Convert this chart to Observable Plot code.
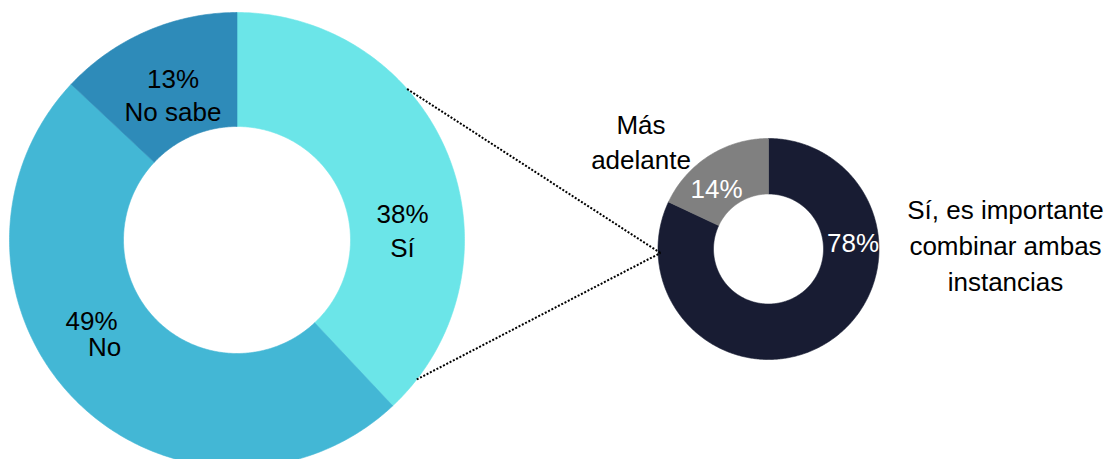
<!DOCTYPE html>
<html>
<head>
<meta charset="utf-8">
<script src="https://cdn.jsdelivr.net/npm/d3@7"></script>
<script src="https://cdn.jsdelivr.net/npm/@observablehq/plot@0.6"></script>
<style>
  html, body { margin: 0; padding: 0; background: #ffffff; }
  #chart svg { display: block; }
</style>
</head>
<body>
<div id="chart"></div>
<script>
// ---- Data ----
const leftCategories = ["Sí", "No", "No sabe"];
const leftValues = [38, 49, 13];
const leftColors = ["#6be5e8", "#43b7d5", "#2e8bb9"];

const rightCategories = ["Sí, es importante combinar ambas instancias", "Más adelante"];
const rightShares = [82, 18];        // arc sizes as drawn
const rightPercentLabels = [78, 14]; // printed percentages
const rightColors = ["#181c33", "#808080"];

// ---- Layout ----
const W = 1109, H = 459;
const leftDonut = {cx: 236.5, cy: 239.5, r0: 113.5, r1: 227.5};
const rightDonut = {cx: 768, cy: 248.5, r0: 55, r1: 110.5};

function arcPolygons(cats, vals, colors, g, group) {
  const pie = d3.pie().sort(null).value(d => d.value);
  const arcs = pie(cats.map((c, i) => ({cat: c, value: vals[i], color: colors[i]})));
  const pts = [];
  arcs.forEach(a => {
    const key = group + ":" + a.data.cat;
    const n = Math.max(8, Math.ceil((a.endAngle - a.startAngle) * 90));
    const ring = [];
    for (let k = 0; k <= n; k++) {
      const t = a.startAngle + (a.endAngle - a.startAngle) * k / n;
      ring.push([g.cx + g.r1 * Math.sin(t), g.cy - g.r1 * Math.cos(t)]);
    }
    for (let k = n; k >= 0; k--) {
      const t = a.startAngle + (a.endAngle - a.startAngle) * k / n;
      ring.push([g.cx + g.r0 * Math.sin(t), g.cy - g.r0 * Math.cos(t)]);
    }
    ring.push(ring[0]);
    ring.forEach(([x, y]) => pts.push({x, y, key, color: a.data.color}));
  });
  return pts;
}

const arcPoints = [
  ...arcPolygons(leftCategories, leftValues, leftColors, leftDonut, "L"),
  ...arcPolygons(rightCategories, rightShares, rightColors, rightDonut, "R")
];

// connector lines from the "Sí" segment to the right donut
function polar(g, deg, r) {
  const t = deg * Math.PI / 180;
  return [g.cx + r * Math.sin(t), g.cy - r * Math.cos(t)];
}
const p1 = polar(leftDonut, 48.4, leftDonut.r1);
const p2 = polar(leftDonut, 127.8, leftDonut.r1);
const pEnd = [rightDonut.cx - 108, rightDonut.cy + 4];
const connectors = [
  {x1: p1[0], y1: p1[1], x2: pEnd[0], y2: pEnd[1]},
  {x1: p2[0], y1: p2[1], x2: pEnd[0], y2: pEnd[1]}
];

// labels (baseline positions -> y for middle anchor)
const FS = 26;
const base = b => b - 0.32 * FS;
const labels = [
  {x: 172.5, y: base(87),  text: leftValues[2] + "%", fill: "#000"},
  {x: 172.5, y: base(120), text: leftCategories[2], fill: "#000"},
  {x: 402,   y: base(222), text: leftValues[0] + "%", fill: "#000"},
  {x: 402,   y: base(256), text: leftCategories[0], fill: "#000"},
  {x: 91,    y: base(329), text: leftValues[1] + "%", fill: "#000"},
  {x: 104,   y: base(355), text: leftCategories[1], fill: "#000"},
  {x: 852.5, y: base(251), text: rightPercentLabels[0] + "%", fill: "#ffffff"},
  {x: 716,   y: base(197), text: rightPercentLabels[1] + "%", fill: "#ffffff"},
  {x: 640.5, y: base(133), text: "Más", fill: "#000"},
  {x: 640.5, y: base(168), text: "adelante", fill: "#000"},
  {x: 1005,  y: base(218), text: "Sí, es importante", fill: "#000"},
  {x: 1005,  y: base(254), text: "combinar ambas", fill: "#000"},
  {x: 1005,  y: base(290), text: "instancias", fill: "#000"}
];

const chart = Plot.plot({
  width: W,
  height: H,
  margin: 0,
  x: {domain: [0, W], range: [0, W], axis: null},
  y: {domain: [0, H], range: [0, H], axis: null},
  color: {type: "identity"},
  style: {fontFamily: "'Liberation Sans', Arial, sans-serif", background: "#ffffff"},
  marks: [
    Plot.line(arcPoints, {x: "x", y: "y", z: "key", fill: "color", stroke: "color", strokeWidth: 0.6, curve: "linear"}),
    Plot.link(connectors, {x1: "x1", y1: "y1", x2: "x2", y2: "y2", stroke: "#000", strokeWidth: 2, strokeDasharray: "2 1.7"}),
    Plot.text(labels, {x: "x", y: "y", text: "text", fill: "fill", fontSize: FS, textAnchor: "middle", lineAnchor: "middle"})
  ]
});
document.getElementById("chart").appendChild(chart);
</script>
</body>
</html>
